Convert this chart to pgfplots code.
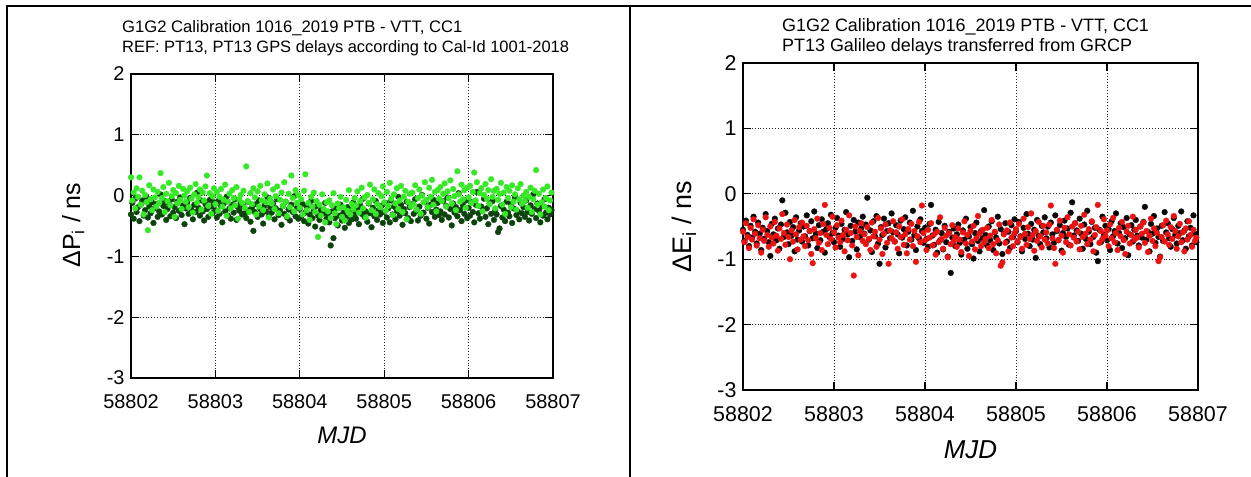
\documentclass[border=0pt]{standalone}
\usepackage{fontspec}
\setmainfont{Liberation Sans}
\usepackage{pgfplots}
\pgfplotsset{compat=1.18}
\definecolor{dkgreen}{RGB}{12,66,12}
\definecolor{ltgreen}{RGB}{55,232,40}
\definecolor{myred}{RGB}{236,18,18}
\definecolor{myblack}{RGB}{8,8,8}
\pgfplotsset{
 gstyle/.style={
  scale only axis, anchor=south west,
  xmin=58802, xmax=58807, ymin=-3, ymax=2,
  xtick={58802,58803,58804,58805,58806,58807},
  xticklabels={58802,58803,58804,58805,58806,58807},
  ytick={-3,-2,-1,0,1,2},
  yticklabels={-3,-2,-1,0,1,2},
  scaled x ticks=false,
  xmajorgrids, ymajorgrids,
  grid style={black!85, line width=0.9bp, dash pattern=on 0.9bp off 2bp},
  axis line style={black, line width=1.3bp},
  tick style={black, line width=1.3bp},
  major tick length=8bp,
  tick align=inside,
  clip=false,
  xticklabel style={yshift=-13bp},
  yticklabel style={xshift=-3bp},
 },
 dots/.style={only marks, mark=*, mark size=2.9bp, color=#1, mark options={draw=#1, fill=#1, line width=0.3bp}},
}
\begin{document}
\begin{tikzpicture}
\path[use as bounding box] (0bp,0bp) rectangle (1251bp,477bp);
\draw[line width=2bp] (7bp,0bp) -- (7bp,471bp) -- (1251bp,471bp);
\draw[line width=2bp] (630bp,0bp) -- (630bp,471bp);
% titles
\node[anchor=base west, inner sep=0, font=\fontsize{16.7}{18}\selectfont] at (122bp,444bp) {G1G2 Calibration 1016\_2019 PTB - VTT, CC1};
\node[anchor=base west, inner sep=0, font=\fontsize{16.5}{18}\selectfont] at (122bp,424bp) {REF: PT13, PT13 GPS delays according to Cal-Id 1001-2018};
\node[anchor=base west, inner sep=0, font=\fontsize{18}{19}\selectfont] at (782bp,445bp) {G1G2 Calibration 1016\_2019 PTB - VTT, CC1};
\node[anchor=base west, inner sep=0, font=\fontsize{18}{19}\selectfont] at (782bp,425bp) {PT13 Galileo delays transferred from GRCP};

\begin{axis}[gstyle, at={(131bp,99bp)}, width=422bp, height=304bp,
 ticklabel style={font=\fontsize{20}{22}\selectfont},
 xlabel={\itshape MJD},
 xlabel style={font=\fontsize{24}{26}\selectfont, at={(axis description cs:0.5,-0.1875)}, anchor=center},
 ylabel={ΔP\textsubscript{i} / ns},
 ylabel style={font=\fontsize{25}{27}\selectfont, at={(axis description cs:-0.137,0.503)}, anchor=center},
]
\addplot[dots=dkgreen] table[header=false, row sep=\\, x expr=58802+\coordindex/60, y index=0] {
-0.31\\ -0.12\\ -0.38\\ -0.05\\ -0.27\\ -0.19\\ -0.42\\ -0.15\\ -0.08\\ -0.33\\ -0.24\\ -0.02\\ -0.36\\ -0.18\\ -0.29\\ -0.11\\ -0.45\\ -0.21\\ -0.14\\ -0.35\\
-0.26\\ 0.02\\ -0.31\\ -0.17\\ -0.09\\ -0.40\\ -0.22\\ -0.13\\ -0.34\\ -0.06\\ -0.28\\ -0.19\\ -0.37\\ -0.10\\ -0.25\\ -0.03\\ -0.32\\ -0.16\\ -0.47\\ -0.21\\
-0.12\\ -0.30\\ -0.04\\ -0.23\\ -0.39\\ -0.15\\ -0.27\\ 0.05\\ -0.20\\ -0.33\\ -0.08\\ -0.26\\ -0.41\\ -0.14\\ -0.22\\ -0.35\\ -0.07\\ -0.18\\ -0.29\\ -0.11\\
-0.24\\ -0.36\\ -0.09\\ -0.30\\ -0.17\\ -0.44\\ -0.13\\ -0.26\\ -0.02\\ -0.33\\ -0.21\\ -0.38\\ -0.15\\ -0.28\\ -0.06\\ -0.40\\ -0.19\\ -0.25\\ -0.12\\ -0.31\\
-0.18\\ -0.29\\ -0.37\\ -0.10\\ -0.24\\ -0.43\\ -0.20\\ -0.58\\ -0.27\\ -0.14\\ -0.35\\ -0.08\\ -0.22\\ -0.31\\ -0.46\\ -0.16\\ -0.26\\ -0.03\\ -0.34\\ -0.19\\
-0.28\\ -0.13\\ -0.39\\ -0.21\\ -0.06\\ -0.32\\ -0.25\\ -0.48\\ -0.17\\ -0.30\\ -0.10\\ -0.36\\ -0.23\\ -0.41\\ -0.15\\ -0.27\\ -0.01\\ -0.34\\ -0.20\\ -0.38\\
-0.22\\ -0.35\\ -0.14\\ -0.42\\ -0.28\\ -0.19\\ -0.46\\ -0.31\\ -0.09\\ -0.37\\ -0.25\\ -0.51\\ -0.17\\ -0.33\\ -0.40\\ -0.24\\ -0.55\\ -0.29\\ -0.12\\ -0.38\\
-0.30\\ -0.44\\ -0.82\\ -0.26\\ -0.70\\ -0.37\\ -0.21\\ -0.49\\ -0.33\\ -0.15\\ -0.41\\ -0.28\\ -0.53\\ -0.36\\ -0.19\\ -0.45\\ -0.24\\ -0.39\\ -0.11\\ -0.31\\
-0.38\\ -0.22\\ -0.47\\ -0.16\\ -0.30\\ -0.05\\ -0.35\\ -0.26\\ -0.43\\ -0.13\\ -0.29\\ -0.52\\ -0.20\\ -0.34\\ -0.09\\ -0.40\\ -0.24\\ -0.31\\ -0.17\\ -0.45\\
-0.27\\ -0.12\\ -0.36\\ -0.21\\ -0.44\\ -0.08\\ -0.31\\ -0.18\\ -0.39\\ -0.25\\ -0.02\\ -0.33\\ -0.15\\ -0.48\\ -0.22\\ -0.29\\ -0.10\\ -0.37\\ -0.19\\ -0.42\\
-0.14\\ -0.30\\ -0.06\\ -0.25\\ -0.41\\ -0.18\\ -0.33\\ 0.01\\ -0.28\\ -0.11\\ -0.38\\ -0.20\\ -0.46\\ -0.15\\ -0.27\\ -0.07\\ -0.35\\ -0.23\\ -0.12\\ -0.32\\
-0.26\\ -0.40\\ -0.09\\ -0.31\\ -0.17\\ -0.03\\ -0.36\\ -0.22\\ -0.49\\ -0.13\\ -0.28\\ -0.19\\ -0.34\\ 0.04\\ -0.24\\ -0.42\\ -0.16\\ -0.30\\ -0.08\\ -0.37\\
-0.20\\ -0.33\\ -0.11\\ -0.27\\ -0.44\\ -0.15\\ 0.06\\ -0.29\\ -0.38\\ -0.18\\ -0.25\\ -0.05\\ -0.35\\ -0.21\\ -0.47\\ -0.13\\ -0.30\\ -0.09\\ -0.40\\ -0.24\\
-0.31\\ -0.60\\ -0.54\\ -0.17\\ -0.36\\ -0.23\\ -0.42\\ -0.10\\ -0.28\\ -0.34\\ -0.14\\ -0.45\\ -0.21\\ -0.03\\ -0.32\\ -0.26\\ -0.39\\ -0.12\\ -0.29\\ -0.19\\
-0.35\\ -0.08\\ -0.27\\ -0.41\\ -0.16\\ -0.30\\ 0.02\\ -0.22\\ -0.37\\ -0.13\\ -0.25\\ -0.44\\ -0.18\\ -0.33\\ -0.06\\ -0.28\\ -0.39\\ -0.20\\ -0.31\\ -0.24\\
};
\addplot[dots=ltgreen] table[header=false, row sep=\\, x expr=58802+\coordindex/60, y index=0] {
0.30\\ -0.08\\ 0.05\\ -0.21\\ 0.12\\ -0.02\\ 0.30\\ -0.15\\ 0.08\\ -0.31\\ 0.01\\ -0.11\\ -0.57\\ 0.17\\ -0.06\\ -0.24\\ 0.10\\ -0.03\\ -0.18\\ 0.06\\
-0.12\\ 0.37\\ -0.04\\ 0.14\\ -0.27\\ 0.03\\ -0.09\\ 0.21\\ -0.16\\ -0.01\\ 0.09\\ -0.35\\ 0.04\\ -0.13\\ 0.16\\ -0.07\\ -0.22\\ 0.11\\ 0.00\\ -0.10\\
0.07\\ -0.19\\ 0.13\\ -0.05\\ -0.28\\ 0.02\\ 0.19\\ -0.12\\ -0.03\\ 0.10\\ -0.23\\ 0.05\\ -0.08\\ 0.15\\ 0.33\\ -0.17\\ 0.04\\ -0.30\\ -0.01\\ 0.12\\
-0.14\\ 0.06\\ -0.25\\ -0.02\\ 0.11\\ -0.18\\ -0.07\\ 0.18\\ -0.33\\ -0.10\\ 0.03\\ -0.21\\ 0.09\\ -0.04\\ -0.16\\ 0.14\\ -0.38\\ -0.06\\ 0.01\\ -0.12\\
0.08\\ -0.20\\ 0.48\\ -0.09\\ -0.27\\ 0.04\\ -0.14\\ 0.12\\ -0.03\\ -0.31\\ 0.07\\ -0.18\\ 0.16\\ -0.08\\ -0.24\\ 0.02\\ -0.11\\ 0.20\\ -0.36\\ -0.05\\
-0.13\\ 0.10\\ -0.22\\ -0.01\\ 0.15\\ -0.29\\ -0.07\\ 0.05\\ -0.17\\ 0.22\\ -0.10\\ -0.34\\ 0.03\\ -0.19\\ 0.33\\ -0.04\\ -0.26\\ 0.09\\ -0.12\\ 0.01\\
-0.20\\ -0.06\\ -0.31\\ 0.08\\ 0.35\\ -0.24\\ -0.12\\ -0.40\\ -0.02\\ -0.18\\ 0.05\\ -0.27\\ -0.09\\ -0.68\\ -0.15\\ -0.33\\ 0.02\\ -0.22\\ -0.44\\ -0.11\\
-0.26\\ -0.08\\ -0.37\\ -0.16\\ 0.04\\ -0.29\\ -0.47\\ -0.13\\ -0.21\\ -0.02\\ -0.35\\ -0.19\\ -0.41\\ -0.07\\ -0.25\\ 0.09\\ -0.31\\ -0.14\\ -0.22\\ -0.04\\
-0.16\\ 0.07\\ -0.28\\ -0.09\\ 0.13\\ -0.21\\ -0.03\\ -0.36\\ 0.01\\ -0.12\\ 0.18\\ -0.24\\ -0.06\\ 0.10\\ -0.30\\ -0.14\\ 0.04\\ -0.19\\ -0.01\\ 0.15\\
-0.11\\ -0.25\\ 0.06\\ -0.17\\ 0.21\\ -0.05\\ -0.32\\ 0.02\\ -0.13\\ 0.12\\ -0.22\\ -0.08\\ 0.16\\ -0.27\\ -0.02\\ 0.08\\ -0.39\\ -0.10\\ 0.03\\ -0.18\\
0.05\\ -0.14\\ 0.17\\ -0.23\\ -0.04\\ 0.10\\ -0.30\\ 0.00\\ -0.11\\ 0.22\\ -0.07\\ -0.19\\ 0.13\\ -0.02\\ 0.26\\ -0.15\\ 0.06\\ -0.26\\ 0.09\\ -0.05\\
0.14\\ -0.09\\ 0.03\\ 0.20\\ -0.18\\ 0.07\\ -0.04\\ 0.25\\ -0.13\\ 0.11\\ -0.01\\ -0.24\\ 0.40\\ 0.02\\ -0.10\\ 0.18\\ -0.06\\ 0.09\\ -0.20\\ 0.13\\
-0.03\\ 0.16\\ -0.12\\ 0.06\\ 0.38\\ -0.08\\ 0.22\\ -0.17\\ 0.04\\ 0.12\\ -0.26\\ 0.01\\ 0.19\\ -0.05\\ 0.09\\ -0.14\\ 0.27\\ -0.02\\ 0.08\\ -0.21\\
0.11\\ -0.07\\ 0.03\\ 0.21\\ -0.15\\ 0.05\\ -0.30\\ 0.14\\ -0.04\\ 0.08\\ -0.19\\ 0.17\\ -0.10\\ 0.02\\ -0.23\\ 0.12\\ -0.06\\ 0.19\\ -0.13\\ 0.00\\
-0.09\\ 0.06\\ -0.20\\ -0.02\\ 0.13\\ -0.27\\ -0.06\\ 0.08\\ 0.42\\ -0.15\\ 0.03\\ -0.31\\ -0.11\\ 0.10\\ -0.18\\ -0.04\\ 0.15\\ -0.24\\ -0.08\\ 0.05\\
};
\end{axis}

\begin{axis}[gstyle, at={(743bp,87bp)}, width=455bp, height=327bp,
 ticklabel style={font=\fontsize{21.5}{23}\selectfont},
 xlabel={\itshape MJD},
 xlabel style={font=\fontsize{26}{28}\selectfont, at={(axis description cs:0.5,-0.183)}, anchor=center},
 ylabel={ΔE\textsubscript{i} / ns},
 ylabel style={font=\fontsize{27}{29}\selectfont, at={(axis description cs:-0.13,0.50)}, anchor=center},
]
\addplot[dots=myblack] table[header=false, row sep=\\, x expr=58802+\coordindex/60, y index=0] {
-0.55\\ -0.72\\ -0.41\\ -0.63\\ -0.80\\ -0.49\\ -0.67\\ -0.35\\ -0.58\\ -0.76\\ -0.44\\ -0.61\\ -0.86\\ -0.52\\ -0.69\\ -0.31\\ -0.57\\ -0.74\\ -0.95\\ -0.46\\
-0.62\\ -0.38\\ -0.71\\ -0.53\\ -0.84\\ -0.47\\ -0.10\\ -0.66\\ -0.29\\ -0.59\\ -0.77\\ -0.43\\ -0.64\\ -0.51\\ -0.88\\ -0.36\\ -0.70\\ -0.56\\ -0.45\\ -0.73\\
-0.50\\ -0.65\\ -0.33\\ -0.79\\ -0.57\\ -0.42\\ -0.68\\ -0.27\\ -0.61\\ -0.83\\ -0.48\\ -0.71\\ -0.39\\ -0.58\\ -0.90\\ -0.54\\ -0.45\\ -0.66\\ -0.32\\ -0.60\\
-0.74\\ -0.52\\ -0.37\\ -0.64\\ -0.81\\ -0.46\\ -0.69\\ -0.55\\ -0.28\\ -0.62\\ -0.97\\ -0.49\\ -0.72\\ -0.40\\ -0.58\\ -0.85\\ -0.44\\ -0.66\\ -0.53\\ -0.35\\
-0.61\\ -0.47\\ -0.06\\ -0.70\\ -0.56\\ -0.89\\ -0.42\\ -0.65\\ -0.34\\ -0.76\\ -1.07\\ -0.51\\ -0.63\\ -0.38\\ -0.82\\ -0.57\\ -0.45\\ -0.68\\ -0.30\\ -0.59\\
-0.73\\ -0.48\\ -0.62\\ -0.91\\ -0.41\\ -0.67\\ -0.54\\ -0.36\\ -0.79\\ -0.58\\ -0.44\\ -0.70\\ -0.26\\ -0.63\\ -0.86\\ -0.50\\ -0.68\\ -0.39\\ -0.57\\ -0.75\\
-0.52\\ -0.69\\ -0.81\\ -0.46\\ -0.17\\ -0.64\\ -0.78\\ -0.55\\ -0.90\\ -0.43\\ -0.71\\ -0.60\\ -0.85\\ -0.49\\ -0.74\\ -0.96\\ -0.58\\ -1.21\\ -0.67\\ -0.53\\
-0.80\\ -0.62\\ -0.47\\ -0.75\\ -0.93\\ -0.56\\ -0.70\\ -0.38\\ -0.84\\ -0.65\\ -0.51\\ -0.77\\ -0.99\\ -0.60\\ -0.44\\ -0.72\\ -0.88\\ -0.57\\ -0.68\\ -0.25\\
-0.63\\ -0.79\\ -0.50\\ -0.71\\ -0.42\\ -0.86\\ -0.59\\ -0.67\\ -0.35\\ -0.76\\ -0.54\\ -0.92\\ -0.61\\ -0.45\\ -0.73\\ -0.58\\ -0.83\\ -0.48\\ -0.66\\ -0.39\\
-0.57\\ -0.74\\ -0.43\\ -0.65\\ -0.88\\ -0.52\\ -0.69\\ -0.31\\ -0.61\\ -0.80\\ -0.46\\ -0.70\\ -0.55\\ -0.98\\ -0.40\\ -0.64\\ -0.77\\ -0.49\\ -0.59\\ -0.36\\
-0.68\\ -0.50\\ -0.82\\ -0.44\\ -0.62\\ -0.75\\ -0.33\\ -0.57\\ -0.71\\ -0.48\\ -0.87\\ -0.60\\ -0.41\\ -0.66\\ -0.53\\ -0.78\\ -0.29\\ -0.13\\ -0.64\\ -0.45\\
-0.56\\ -0.72\\ -0.38\\ -0.61\\ -0.84\\ -0.47\\ -0.69\\ -0.26\\ -0.58\\ -0.77\\ -0.43\\ -0.66\\ -0.52\\ -0.90\\ -1.03\\ -0.55\\ -0.74\\ -0.35\\ -0.63\\ -0.49\\
-0.71\\ -0.54\\ -0.86\\ -0.42\\ -0.65\\ -0.57\\ -0.30\\ -0.76\\ -0.60\\ -0.45\\ -0.83\\ -0.51\\ -0.68\\ -0.37\\ -0.94\\ -0.62\\ -0.48\\ -0.73\\ -0.55\\ -0.40\\
-0.64\\ -0.79\\ -0.50\\ -0.67\\ -0.43\\ -0.20\\ -0.70\\ -0.58\\ -0.88\\ -0.46\\ -0.61\\ -0.34\\ -0.75\\ -0.53\\ -0.66\\ -0.96\\ -0.49\\ -0.72\\ -0.28\\ -0.59\\
-0.45\\ -0.68\\ -0.81\\ -0.54\\ -0.37\\ -0.63\\ -0.76\\ -0.49\\ -0.60\\ -0.27\\ -0.71\\ -0.56\\ -0.84\\ -0.42\\ -0.65\\ -0.52\\ -0.79\\ -0.33\\ -0.61\\ -0.74\\
};
\addplot[dots=myred] table[header=false, row sep=\\, x expr=58802+\coordindex/60, y index=0] {
-0.58\\ -0.74\\ -0.45\\ -0.66\\ -0.83\\ -0.52\\ -0.70\\ -0.39\\ -0.61\\ -0.79\\ -0.48\\ -0.68\\ -0.90\\ -0.55\\ -0.72\\ -0.36\\ -0.63\\ -0.81\\ -0.50\\ -0.67\\
-0.76\\ -0.43\\ -0.64\\ -0.87\\ -0.53\\ -0.69\\ -0.31\\ -0.60\\ -0.78\\ -0.47\\ -0.66\\ -1.00\\ -0.56\\ -0.73\\ -0.40\\ -0.62\\ -0.85\\ -0.51\\ -0.70\\ -0.44\\
-0.65\\ -0.80\\ -0.49\\ -0.71\\ -0.57\\ -0.92\\ -1.06\\ -0.54\\ -0.68\\ -0.38\\ -0.75\\ -0.60\\ -0.86\\ -0.46\\ -0.17\\ -0.63\\ -0.77\\ -0.52\\ -0.69\\ -0.35\\
-0.59\\ -0.82\\ -0.48\\ -0.67\\ -0.74\\ -0.41\\ -0.63\\ -0.88\\ -0.55\\ -0.71\\ -0.33\\ -0.60\\ -0.79\\ -1.25\\ -0.50\\ -0.66\\ -0.94\\ -0.57\\ -0.45\\ -0.72\\
-0.62\\ -0.77\\ -0.51\\ -0.69\\ -0.86\\ -0.44\\ -0.65\\ -0.58\\ -0.81\\ -0.37\\ -0.70\\ -0.53\\ -0.92\\ -0.61\\ -0.47\\ -0.75\\ -1.07\\ -0.56\\ -0.68\\ -0.42\\
-0.73\\ -0.59\\ -0.84\\ -0.50\\ -0.66\\ -0.39\\ -0.78\\ -0.62\\ -0.91\\ -0.54\\ -0.70\\ -0.46\\ -0.80\\ -0.57\\ -1.04\\ -0.65\\ -0.43\\ -0.74\\ -0.18\\ -0.60\\
-0.71\\ -0.86\\ -0.55\\ -0.67\\ -0.45\\ -0.79\\ -0.62\\ -0.93\\ -0.58\\ -0.74\\ -0.36\\ -0.69\\ -0.84\\ -0.52\\ -0.64\\ -0.97\\ -0.60\\ -0.77\\ -0.48\\ -0.72\\
-0.66\\ -0.81\\ -0.53\\ -0.70\\ -0.89\\ -0.59\\ -0.42\\ -0.76\\ -0.63\\ -0.95\\ -0.57\\ -0.73\\ -0.49\\ -0.85\\ -0.68\\ -0.34\\ -0.61\\ -0.80\\ -0.55\\ -0.74\\
-0.69\\ -0.52\\ -0.83\\ -0.64\\ -0.40\\ -0.77\\ -0.58\\ -0.91\\ -0.71\\ -0.47\\ -1.10\\ -1.05\\ -0.62\\ -0.75\\ -0.56\\ -0.88\\ -0.44\\ -0.67\\ -0.80\\ -0.60\\
-0.54\\ -0.73\\ -0.46\\ -0.66\\ -0.84\\ -0.38\\ -0.61\\ -0.78\\ -0.51\\ -0.69\\ -0.30\\ -0.63\\ -0.87\\ -0.57\\ -0.72\\ -0.43\\ -0.65\\ -0.82\\ -0.49\\ -0.70\\
-0.59\\ -0.76\\ -0.47\\ -0.18\\ -0.68\\ -0.83\\ -1.07\\ -0.55\\ -0.71\\ -0.41\\ -0.64\\ -0.90\\ -0.52\\ -0.74\\ -0.36\\ -0.62\\ -0.79\\ -0.50\\ -0.67\\ -0.45\\
-0.73\\ -0.58\\ -0.85\\ -0.49\\ -0.66\\ -0.32\\ -0.61\\ -0.77\\ -0.54\\ -0.70\\ -0.42\\ -0.88\\ -0.63\\ -0.51\\ -0.17\\ -0.75\\ -0.57\\ -0.69\\ -0.39\\ -0.64\\
-0.56\\ -0.80\\ -0.47\\ -0.68\\ -0.37\\ -0.74\\ -0.60\\ -0.86\\ -0.52\\ -0.65\\ -0.43\\ -0.71\\ -0.92\\ -0.58\\ -0.49\\ -0.76\\ -0.63\\ -0.35\\ -0.70\\ -0.55\\
-0.67\\ -0.82\\ -0.50\\ -0.61\\ -0.44\\ -0.75\\ -0.57\\ -0.89\\ -0.64\\ -0.38\\ -0.72\\ -0.53\\ -0.80\\ -0.60\\ -1.03\\ -0.97\\ -0.66\\ -0.48\\ -0.73\\ -0.41\\
-0.62\\ -0.78\\ -0.51\\ -0.69\\ -0.34\\ -0.57\\ -0.84\\ -0.65\\ -0.46\\ -0.74\\ -0.59\\ -0.88\\ -0.53\\ -0.70\\ -0.42\\ -0.63\\ -0.81\\ -0.55\\ -0.72\\ -0.67\\
};
\end{axis}
\end{tikzpicture}
\end{document}
